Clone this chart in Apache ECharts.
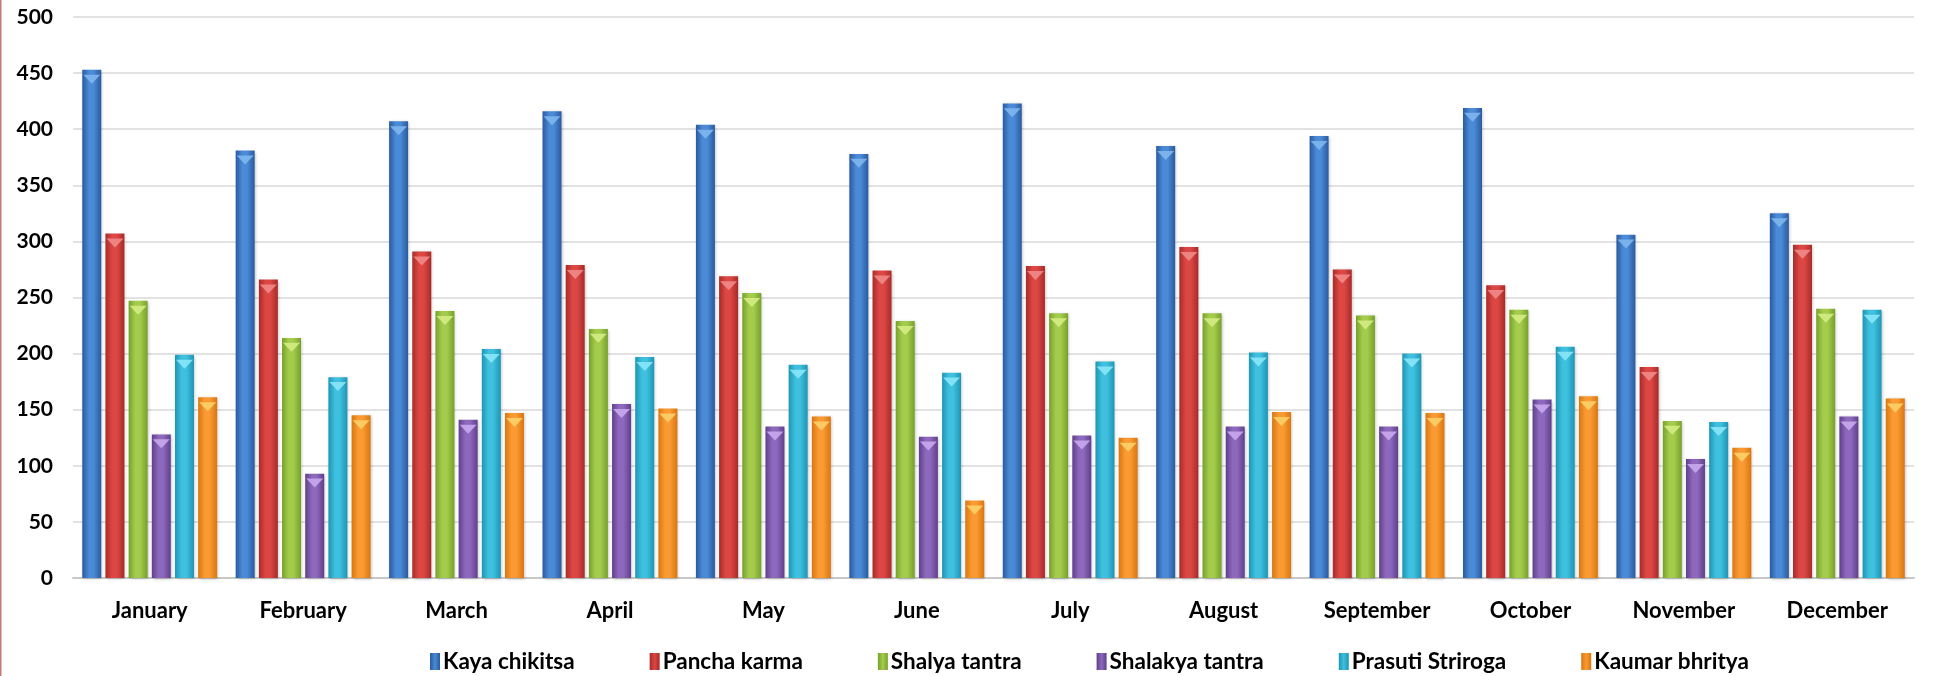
<!DOCTYPE html>
<html>
<head>
<meta charset="utf-8">
<script src="https://cdn.jsdelivr.net/npm/echarts@6/dist/echarts.min.js"></script>
<style>
html,body{margin:0;padding:0;background:#fff;}
#chart{width:1933px;height:676px;}
</style>
</head>
<body>
<div id="chart"></div>
<script>
var categories = ['January','February','March','April','May','June','July','August','September','October','November','December'];
var seriesNames = ['Kaya chikitsa','Pancha karma','Shalya tantra','Shalakya tantra','Prasuti Striroga','Kaumar bhritya'];
var kayaChikitsa   = [453,381,407,416,404,378,423,385,394,419,306,325];
var panchaKarma    = [307,266,291,279,269,274,278,295,275,261,188,297];
var shalyaTantra   = [247,214,238,222,254,229,236,236,234,239,140,240];
var shalakyaTantra = [128,93,141,155,135,126,127,135,135,159,106,144];
var prasutiStriroga= [199,179,204,197,190,183,193,201,200,206,139,239];
var kaumarBhritya  = [161,145,147,151,144,69,125,148,147,162,116,160];
var yTicks = [0,50,100,150,200,250,300,350,400,450,500];

var allData = [kayaChikitsa,panchaKarma,shalyaTantra,shalakyaTantra,prasutiStriroga,kaumarBhritya];
// [dark edge, light center, top bevel]
var palette = [
  ['#2a5a9e','#4a8ad6','#7fb6ee'],
  ['#a82a28','#dc4744','#f08a88'],
  ['#76a02a','#a4cc4c','#d4ec84'],
  ['#5f3f8c','#8d68bc','#c9a8ee'],
  ['#1e95b5','#3ec0de','#8ae6f8'],
  ['#d9760f','#fa9a32','#fdd068']
];

var BW = 19;
var series = [];
allData.forEach(function(d,i){
  var c = palette[i];
  series.push({
    name: seriesNames[i],
    type: 'bar',
    data: d,
    barWidth: BW,
    barGap: '22%',
    itemStyle: {
      color: new echarts.graphic.LinearGradient(0,0,1,0,[
        {offset:0,color:c[0]},{offset:0.35,color:c[1]},{offset:0.6,color:c[1]},{offset:1,color:c[0]}
      ]),
      shadowColor:'rgba(0,0,0,0.25)', shadowBlur:3, shadowOffsetX:1, shadowOffsetY:1
    }
  });
});
allData.forEach(function(d,i){
  var c = palette[i];
  series.push({
    name: seriesNames[i],
    type: 'pictorialBar',
    data: d,
    barWidth: BW,
    barGap: '22%',
    symbol: 'path://M0,0 L10,0 L5,7 Z',
    symbolSize: [BW-2, 9],
    symbolPosition: 'end',
    symbolOffset: [0, '55%'],
    z: 5,
    silent: true,
    itemStyle: { color: c[2], opacity: 0.9 },
    legendHoverLink:false
  });
});

var chart = echarts.init(document.getElementById('chart'));
chart.setOption({
  animation: false,
  backgroundColor: '#fff',
  grid: { left: 73, right: 19, top: 17, bottom: 98 },
  legend: {
    data: seriesNames.map(function(n,i){return {name:n, itemStyle:{color:new echarts.graphic.LinearGradient(0,0,1,0,[{offset:0,color:palette[i][0]},{offset:0.5,color:palette[i][1]},{offset:1,color:palette[i][0]}])}};}),
    left: 425, top: 645,
    icon: 'rect', itemWidth: 10, itemHeight: 17, itemGap: 75,
    textStyle: { fontFamily: 'Lato', fontWeight: 'bold', fontSize: 22.5, color: '#000', padding:[0,0,0,-2] }
  },
  xAxis: {
    type: 'category',
    data: categories,
    axisLine: { show: true, lineStyle: { color: '#c8c8c8', width: 2 } },
    axisTick: { show: false },
    axisLabel: { interval: 0, margin: 22, fontFamily: 'Lato', fontWeight: 'bold', fontSize: 22, color: '#000' }
  },
  yAxis: {
    type: 'value',
    min: yTicks[0], max: yTicks[yTicks.length-1], interval: 50,
    axisLine: { show: false },
    axisTick: { show: false },
    splitLine: { lineStyle: { color: '#d9d9d9', width: 1.5 } },
    axisLabel: { margin: 20, fontFamily: 'Lato', fontWeight: 'bold', fontSize: 21, color: '#000' }
  },
  graphic: [{ type:'rect', left:0, top:0, shape:{width:1.5, height:676}, style:{fill:'#c47a7a'} }],
  series: series
});
</script>
</body>
</html>
